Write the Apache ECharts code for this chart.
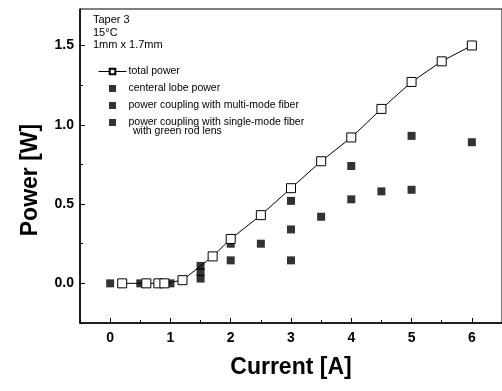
<!DOCTYPE html>
<html>
<head>
<meta charset="utf-8">
<script src="https://cdn.jsdelivr.net/npm/echarts@6/dist/echarts.min.js"></script>
<style>
  html, body { margin: 0; padding: 0; background: #fff; }
  #chart { width: 502px; height: 391px; }
</style>
</head>
<body>
<div id="chart"></div>
<script>
// total power (open squares + line)
const totalCurrent = [0.2, 0.6, 0.8, 0.9, 1.2, 1.7, 2.0, 2.5, 3.0, 3.5, 4.0, 4.5, 5.0, 5.5, 6.0];
const totalPower = [0, 0, 0, 0, 0.02, 0.17, 0.28, 0.43, 0.6, 0.77, 0.92, 1.1, 1.27, 1.4, 1.5];
// centeral lobe power
const lobeCurrent = [0, 0.5, 1.0, 1.5, 2.0, 3.0, 4.0, 5.0, 6.0];
const lobePower = [0, 0, 0, 0.11, 0.25, 0.52, 0.74, 0.93, 0.89];
// coupling with multi-mode fiber
const multiCurrent = [1.5, 2.5, 3.0, 3.5, 4.0, 4.5, 5.0];
const multiPower = [0.07, 0.25, 0.34, 0.42, 0.53, 0.58, 0.59];
// coupling with single-mode fiber
const singleCurrent = [1.5, 2.0, 3.0];
const singlePower = [0.03, 0.145, 0.145];

const xLabels = [0, 1, 2, 3, 4, 5, 6];
const xMinor = [-0.5, 0.5, 1.5, 2.5, 3.5, 4.5, 5.5, 6.5];
const yLabels = [0, 0.5, 1.0, 1.5];
const yMinor = [-0.25, 0.25, 0.75, 1.25];

const pairs = (xs, ys) => xs.map((x, i) => [x, ys[i]]);

const chart = echarts.init(document.getElementById("chart"));
const font = "Liberation Sans";
const sq = "path://M0,0h1v1h-1z";

const option = {
  animation: false,
  textStyle: { fontFamily: font },
  grid: {
    left: 80, top: 9, right: -3, bottom: 68,
    show: true, borderColor: "#000", borderWidth: 1
  },
  xAxis: [
    {
      type: "value", min: -0.5, max: 6.5,
      name: "Current [A]", nameLocation: "middle", nameGap: 33,
      nameTextStyle: { fontSize: 23, fontWeight: "bold", color: "#000", fontFamily: font },
      axisLine: { onZero: false, lineStyle: { color: "#000", width: 1.5 } },
      axisTick: { inside: true, length: 5, customValues: xLabels, lineStyle: { color: "#000" } },
      axisLabel: { customValues: xLabels, margin: 8, fontSize: 14, fontWeight: "bold", color: "#000" },
      splitLine: { show: false }
    },
    {
      type: "value", min: -0.5, max: 6.5, position: "bottom",
      axisLine: { show: false, onZero: false },
      axisTick: { inside: true, length: 3, customValues: xMinor, lineStyle: { color: "#000" } },
      axisLabel: { show: false },
      splitLine: { show: false }
    }
  ],
  yAxis: [
    {
      type: "value", min: -0.25, max: 1.73,
      name: "Power [W]", nameLocation: "middle", nameGap: 38,
      nameTextStyle: {
        fontSize: 23, fontWeight: "bold", color: "#000", fontFamily: font,
        padding: [0, 28, 0, 0]
      },
      axisLine: { show: true, onZero: false, lineStyle: { color: "#000", width: 1.5 } },
      axisTick: { show: true, inside: true, length: 5, customValues: yLabels, lineStyle: { color: "#000" } },
      axisLabel: {
        customValues: yLabels, margin: 6, fontSize: 14, fontWeight: "bold", color: "#000",
        formatter: (v) => v.toFixed(1)
      },
      splitLine: { show: false }
    },
    {
      type: "value", min: -0.25, max: 1.73, position: "left",
      axisLine: { show: false, onZero: false },
      axisTick: { show: true, inside: true, length: 3, customValues: yMinor, lineStyle: { color: "#000" } },
      axisLabel: { show: false },
      splitLine: { show: false }
    }
  ],
  legend: {
    orient: "vertical", left: 93, top: 60,
    itemWidth: 28, itemHeight: 7, itemGap: 4,
    textStyle: { fontSize: 10.5, lineHeight: 13, color: "#000", fontFamily: font, padding: [0, 0, 0, -3] },
    data: [
      { name: "total power", lineStyle: { width: 1 } },
      { name: "centeral lobe power", icon: sq },
      { name: "power coupling with multi-mode fiber", icon: sq },
      { name: "power coupling with single-mode fiber", icon: sq }
    ]
  },
  graphic: [
    { type: "text", left: 93, top: 14, style: { text: "Taper 3", font: "11px " + font, fill: "#000" } },
    { type: "text", left: 93, top: 27, style: { text: "15°C", font: "11px " + font, fill: "#000" } },
    { type: "text", left: 93, top: 39, style: { text: "1mm x 1.7mm", font: "11px " + font, fill: "#000" } },
    { type: "text", left: 133, top: 126, style: { text: "with green rod lens", font: "10.5px " + font, fill: "#000" } }
  ],
  series: [
    {
      name: "total power", type: "line",
      data: pairs(totalCurrent, totalPower),
      symbol: "rect", symbolSize: 9,
      lineStyle: { color: "#000", width: 1 },
      itemStyle: { color: "#fff", borderColor: "#000", borderWidth: 1 },
      z: 3
    },
    {
      name: "centeral lobe power", type: "scatter",
      data: pairs(lobeCurrent, lobePower),
      symbol: "rect", symbolSize: 8,
      itemStyle: { color: "#000" }
    },
    {
      name: "power coupling with multi-mode fiber", type: "scatter",
      data: pairs(multiCurrent, multiPower),
      symbol: "rect", symbolSize: 8,
      itemStyle: { color: "#000" }
    },
    {
      name: "power coupling with single-mode fiber", type: "scatter",
      data: pairs(singleCurrent, singlePower),
      symbol: "rect", symbolSize: 8,
      itemStyle: { color: "#000" }
    }
  ]
};

chart.setOption(option);
</script>
</body>
</html>
